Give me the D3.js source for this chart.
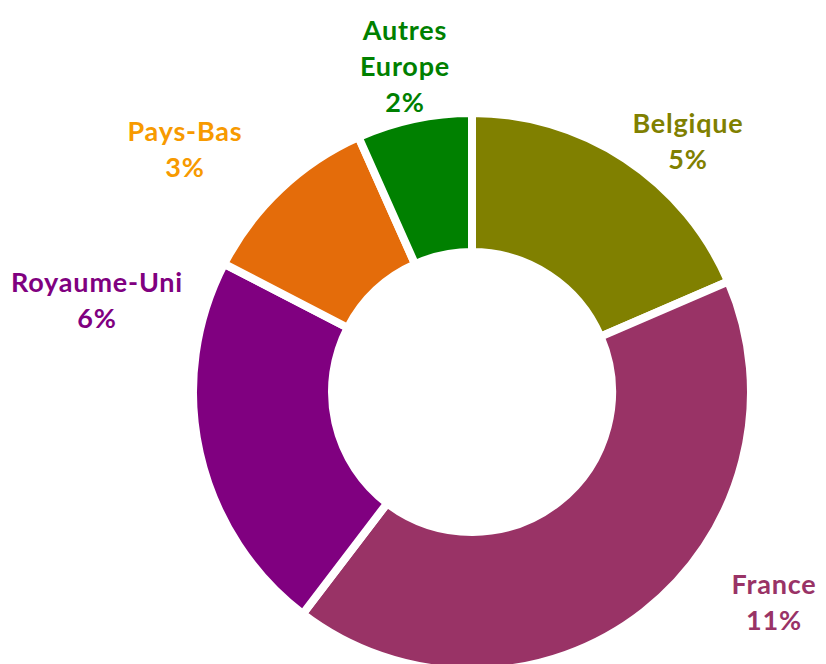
<!DOCTYPE html>
<html>
<head>
<meta charset="utf-8">
<script src="https://cdn.jsdelivr.net/npm/d3@7"></script>
<style>
  body { margin: 0; background: #fff; }
  svg text { font-family: "Lato", "DejaVu Sans", sans-serif; font-weight: bold; letter-spacing: 0.8px; }
</style>
</head>
<body>
<div id="chart"></div>
<script>
// data
var countries = ["Belgique", "France", "Royaume-Uni", "Pays-Bas", "Autres Europe"];
var values = [5.0, 11.3, 6.0, 2.9, 1.8];
var pctLabels = ["5%", "11%", "6%", "3%", "2%"];
var nameLines = [["Belgique"], ["France"], ["Royaume-Uni"], ["Pays-Bas"], ["Autres", "Europe"]];
var sliceColors = ["#808000", "#993366", "#800080", "#E46C0A", "#008000"];
var labelColors = ["#808000", "#993366", "#800080", "#F79A00", "#008000"];

var width = 826, height = 664;
var cx = 472, cy = 392;
var outerR = 279, innerR = 140;

// where each label block sits (centre x, first baseline y)
var labelPos = [[688, 133], [774, 594], [97, 292], [185, 141], [405, 40]];
var lineH = 36;

var svg = d3.select("#chart").append("svg")
    .attr("width", width)
    .attr("height", height);

var g = svg.append("g")
    .attr("transform", "translate(" + cx + "," + cy + ")");

var pie = d3.pie().sort(null).value(function (d) { return d; });
var arc = d3.arc().innerRadius(innerR).outerRadius(outerR);

g.selectAll(".slice")
    .data(pie(values))
    .enter().append("path")
    .attr("class", "slice")
    .attr("d", arc)
    .attr("fill", function (d, i) { return sliceColors[i]; })
    .attr("stroke", "#fff")
    .attr("stroke-width", 8)
    .attr("stroke-linejoin", "miter");

// labels
var lab = svg.selectAll(".lab")
    .data(countries)
    .enter().append("text")
    .attr("class", "lab")
    .attr("text-anchor", "middle")
    .attr("font-size", 27)
    .attr("fill", function (d, i) { return labelColors[i]; });

lab.each(function (d, i) {
    var t = d3.select(this);
    var lines = nameLines[i].concat([pctLabels[i]]);
    lines.forEach(function (s, k) {
        t.append("tspan")
            .attr("x", labelPos[i][0])
            .attr("y", labelPos[i][1] + k * lineH)
            .text(s);
    });
});
</script>
</body>
</html>
